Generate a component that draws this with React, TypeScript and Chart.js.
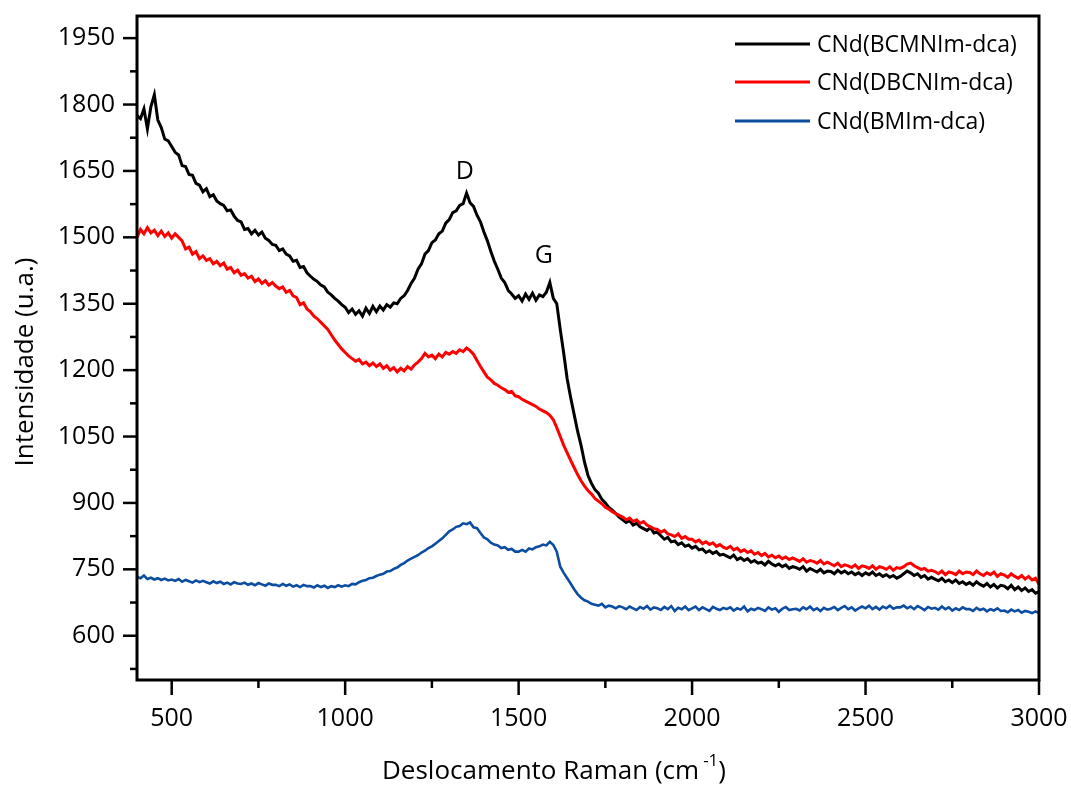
import React, { useEffect, useRef } from 'react';
import { Chart, registerables } from 'chart.js';

Chart.register(...registerables);

// Raman shift axis (cm-1), sampled every 10 cm-1 from 400 to 3000
const ramanShift: number[] = Array.from({ length: 261 }, (_, i) => 400 + i * 10);

const seriesLabels = ['CNd(BCMNIm-dca)', 'CNd(DBCNIm-dca)', 'CNd(BMIm-dca)'];
const seriesColors = ['#000000', '#ff0000', '#0c4da2'];

const intensityBCMNIm: number[] = [
  1775, 1768, 1790, 1745, 1795, 1822, 1765, 1748, 1722, 1718,
  1705, 1692, 1686, 1662, 1660, 1642, 1640, 1622, 1618, 1603,
  1610, 1592, 1596, 1582, 1576, 1572, 1560, 1562, 1548, 1538,
  1535, 1518, 1520, 1508, 1516, 1505, 1512, 1498, 1493, 1484,
  1482, 1470, 1474, 1462, 1458, 1446, 1448, 1432, 1434, 1420,
  1412, 1405, 1400, 1392, 1388, 1376, 1370, 1362, 1356, 1348,
  1342, 1330, 1338, 1326, 1334, 1322, 1340, 1328, 1344, 1332,
  1345, 1336, 1348, 1342, 1352, 1350, 1362, 1368, 1380, 1396,
  1408, 1428, 1440, 1462, 1470, 1488, 1494, 1508, 1514, 1532,
  1540, 1556, 1560, 1572, 1576, 1600, 1578, 1570, 1550, 1535,
  1512, 1492, 1468, 1446, 1428, 1408, 1398, 1380, 1372, 1362,
  1368, 1356, 1372, 1360, 1374, 1358, 1370, 1366, 1376, 1398,
  1362, 1350, 1292, 1238, 1180, 1138, 1100, 1062, 1030, 992,
  962, 944, 930, 922, 908, 900, 890, 884, 876, 868,
  862, 856, 860, 850, 854, 846, 842, 838, 844, 832,
  834, 826, 818, 822, 812, 814, 806, 810, 802, 805,
  798, 802, 794, 796, 788, 792, 786, 790, 782, 784,
  780, 776, 782, 772, 776, 770, 774, 766, 770, 764,
  766, 760, 768, 762, 758, 762, 756, 760, 752, 756,
  754, 750, 756, 746, 752, 748, 744, 750, 742, 746,
  745, 740, 748, 742, 746, 740, 744, 738, 742, 736,
  742, 738, 744, 736, 740, 734, 738, 732, 736, 730,
  734, 740, 746, 742, 736, 740, 732, 736, 728, 732,
  728, 724, 730, 722, 726, 720, 726, 718, 722, 716,
  720, 714, 722, 716, 712, 718, 710, 716, 708, 714,
  712, 706, 714, 704, 710, 702, 708, 700, 704, 696,
  700,
];

const intensityDBCNIm: number[] = [
  1500, 1518, 1508, 1522, 1510, 1516, 1504, 1514, 1502, 1510,
  1498, 1508, 1500, 1492, 1474, 1478, 1462, 1468, 1452, 1458,
  1448, 1452, 1440, 1446, 1436, 1442, 1428, 1432, 1420, 1426,
  1414, 1418, 1408, 1412, 1400, 1406, 1396, 1402, 1392, 1398,
  1390, 1384, 1388, 1376, 1380, 1368, 1364, 1348, 1352, 1338,
  1332, 1322, 1316, 1308, 1300, 1292, 1280, 1268, 1258, 1248,
  1240, 1232, 1226, 1220, 1224, 1214, 1218, 1210, 1216, 1208,
  1214, 1204, 1210, 1200, 1206, 1196, 1204, 1198, 1208, 1202,
  1212, 1218, 1226, 1238, 1230, 1234, 1226, 1236, 1230, 1240,
  1236, 1242, 1238, 1246, 1242, 1250, 1244, 1236, 1222, 1208,
  1196, 1184, 1178, 1170, 1166, 1160, 1156, 1150, 1152, 1142,
  1140, 1134, 1130, 1126, 1122, 1118, 1112, 1108, 1104, 1098,
  1088, 1070, 1050, 1030, 1013, 996, 980, 964, 950, 938,
  928, 920, 910, 904, 898, 890, 886, 880, 876, 872,
  868, 862, 866, 858, 862, 854, 858, 850, 846, 842,
  840, 834, 838, 830, 828, 824, 830, 820, 824, 818,
  818, 812, 816, 808, 812, 806, 810, 802, 806, 800,
  797, 802, 794, 798, 790, 794, 788, 792, 784, 788,
  781, 786, 778, 782, 776, 780, 774, 778, 772, 776,
  772, 768, 774, 766, 770, 768, 764, 770, 762, 766,
  762, 758, 764, 756, 760, 758, 754, 760, 752, 758,
  756, 752, 758, 750, 756, 754, 750, 756, 748, 754,
  752, 756, 762, 764, 758, 754, 750, 752, 746, 748,
  745, 740, 746, 738, 744, 742, 738, 746, 740, 744,
  743, 738, 746, 740, 736, 742, 738, 744, 734, 740,
  737, 732, 740, 734, 730, 736, 728, 734, 726, 730,
  716,
];

const intensityBMIm: number[] = [
  733, 730, 736, 728, 731, 727, 730, 726, 729, 725,
  727, 724, 728, 722, 726, 723, 720, 725, 721, 724,
  721, 718, 723, 719, 722, 717, 720, 716, 721, 718,
  717, 720, 715, 718, 714, 719, 716, 713, 718, 715,
  715, 712, 717, 713, 716, 711, 714, 710, 715, 712,
  712, 709, 714, 710, 713, 708, 712, 710, 714, 711,
  714, 712, 717, 716, 721, 724, 726, 730, 731, 735,
  738, 740, 745, 746, 751, 754, 760, 764, 770, 774,
  778, 782, 788, 792, 798, 802, 808, 814, 820, 828,
  836, 840, 846, 848, 854, 852, 856, 845, 843, 832,
  822, 818, 810, 806, 804, 798, 800, 794, 796, 790,
  790, 794, 790, 797, 795, 800, 802, 806, 804, 812,
  805, 790, 756, 742, 730, 718, 705, 694, 686, 680,
  677, 672, 670, 668, 672, 664, 668, 666, 662, 667,
  664, 660, 666, 662, 658, 665, 661, 667, 659, 664,
  662, 658, 665, 660, 667, 656, 663, 660, 666, 658,
  662, 666, 658, 664, 660, 656, 665, 661, 658, 663,
  660, 664, 657, 662, 659, 666, 655, 661, 658, 663,
  660, 656, 664, 659, 662, 654, 661, 665, 658, 660,
  661, 657, 664, 660, 666, 658, 662, 656, 663, 659,
  661, 665, 658, 663, 667, 660, 664, 657, 662, 666,
  662, 668, 660, 665, 659, 666, 662, 668, 661, 664,
  664, 668, 662, 666, 660, 667, 663, 658, 665, 661,
  663, 659, 666, 660, 664, 657, 662, 658, 664, 660,
  660, 656, 663, 658, 661, 655, 660, 657, 662, 656,
  657, 653, 659, 655, 658, 652, 656, 654, 651, 655,
  651,
];

const xTickLabels: number[] = [500, 1000, 1500, 2000, 2500, 3000];
const xMinorTicks: number[] = [750, 1250, 1750, 2250, 2750];
const yTickLabels: number[] = [600, 750, 900, 1050, 1200, 1350, 1500, 1650, 1800, 1950];
const yMinorTicks: number[] = [525, 675, 825, 975, 1125, 1275, 1425, 1575, 1725, 1875];

const bandLabels: string[] = ['D', 'G'];
const bandLabelX: number[] = [1345, 1573];
const bandLabelY: number[] = [1648, 1458];

const FONT = "'Open Sans', 'Noto Sans', sans-serif";

const decorPlugin = {
  id: 'decor',
  afterDraw(chart: any) {
    const { ctx, chartArea: a, scales } = chart;
    const xs = scales.x;
    const ys = scales.y;
    ctx.save();
    ctx.strokeStyle = '#000';
    ctx.fillStyle = '#000';
    ctx.lineCap = 'butt';

    // frame
    ctx.lineWidth = 3;
    ctx.strokeRect(a.left, a.top, a.right - a.left, a.bottom - a.top);

    // ticks
    ctx.lineWidth = 2.5;
    const yT = (v: number, len: number) => {
      const p = ys.getPixelForValue(v);
      ctx.beginPath();
      ctx.moveTo(a.left, p);
      ctx.lineTo(a.left - len, p);
      ctx.stroke();
    };
    const xT = (v: number, len: number) => {
      const p = xs.getPixelForValue(v);
      ctx.beginPath();
      ctx.moveTo(p, a.bottom);
      ctx.lineTo(p, a.bottom + len);
      ctx.stroke();
    };
    yTickLabels.forEach((v) => yT(v, 14));
    yMinorTicks.forEach((v) => yT(v, 7));
    xTickLabels.forEach((v) => xT(v, 15));
    xMinorTicks.forEach((v) => xT(v, 8));

    // tick labels
    ctx.font = `25px ${FONT}`;
    ctx.textBaseline = 'middle';
    ctx.textAlign = 'right';
    yTickLabels.forEach((v) => {
      ctx.fillText(String(v), a.left - 22, ys.getPixelForValue(v));
    });
    ctx.textAlign = 'center';
    xTickLabels.forEach((v) => {
      ctx.fillText(String(v), xs.getPixelForValue(v), a.bottom + 39);
    });

    // y axis title
    ctx.save();
    ctx.translate(33, 362);
    ctx.rotate(-Math.PI / 2);
    ctx.font = `26px ${FONT}`;
    ctx.textAlign = 'center';
    ctx.textBaseline = 'alphabetic';
    ctx.fillText('Intensidade (u.a.)', 0, 0);
    ctx.restore();

    // x axis title with superscript
    ctx.textBaseline = 'alphabetic';
    ctx.textAlign = 'left';
    const main = 'Deslocamento Raman (cm';
    const sup = '-1';
    const close = ')';
    ctx.font = `26px ${FONT}`;
    const w1 = ctx.measureText(main).width;
    const w3 = ctx.measureText(close).width;
    ctx.font = `17px ${FONT}`;
    const w2 = ctx.measureText(sup).width;
    const gap = 4;
    const total = w1 + gap + w2 + w3;
    let sx = 554 - total / 2;
    const base = 779;
    ctx.font = `26px ${FONT}`;
    ctx.fillText(main, sx, base);
    sx += w1 + gap;
    ctx.font = `17px ${FONT}`;
    ctx.fillText(sup, sx, base - 13);
    sx += w2;
    ctx.font = `26px ${FONT}`;
    ctx.fillText(close, sx, base);

    // legend
    const legendY = [44, 82, 121];
    ctx.font = `23px ${FONT}`;
    ctx.textBaseline = 'middle';
    ctx.textAlign = 'left';
    seriesLabels.forEach((lab, i) => {
      ctx.strokeStyle = seriesColors[i];
      ctx.lineWidth = 3;
      ctx.beginPath();
      ctx.moveTo(735, legendY[i]);
      ctx.lineTo(810, legendY[i]);
      ctx.stroke();
      ctx.fillStyle = '#000';
      ctx.fillText(lab, 817, legendY[i] + 1);
    });

    // band labels
    ctx.font = `25px ${FONT}`;
    ctx.textAlign = 'center';
    ctx.textBaseline = 'middle';
    bandLabels.forEach((t, i) => {
      ctx.fillText(t, xs.getPixelForValue(bandLabelX[i]), ys.getPixelForValue(bandLabelY[i]));
    });

    ctx.restore();
  },
};

export default function App() {
  const ref = useRef<HTMLCanvasElement | null>(null);

  useEffect(() => {
    if (!ref.current) return;
    const series = [intensityBCMNIm, intensityDBCNIm, intensityBMIm];
    const chart = new Chart(ref.current, {
      type: 'line',
      data: {
        datasets: series.map((vals, i) => ({
          label: seriesLabels[i],
          data: ramanShift.map((x, j) => ({ x, y: vals[j] })),
          borderColor: seriesColors[i],
          backgroundColor: seriesColors[i],
          borderWidth: i === 2 ? 2.6 : 3,
          pointRadius: 0,
          tension: 0,
          order: 3 - i,
        })),
      },
      options: {
        animation: false,
        responsive: false,
        devicePixelRatio: 1,
        layout: { padding: { left: 0, top: 16, right: 32, bottom: 0 } },
        plugins: {
          legend: { display: false },
          tooltip: { enabled: false },
          title: { display: false },
        },
        scales: {
          x: {
            type: 'linear',
            min: 400,
            max: 3000,
            grid: { display: false, drawTicks: false },
            border: { display: false },
            afterFit: (s: any) => { s.height = 105; },
            afterBuildTicks: (s: any) => { s.ticks = xTickLabels.map((v) => ({ value: v })); },
            ticks: { display: false },
          },
          y: {
            type: 'linear',
            min: 500,
            max: 2000,
            grid: { display: false, drawTicks: false },
            border: { display: false },
            afterFit: (s: any) => { s.width = 137; },
            afterBuildTicks: (s: any) => { s.ticks = yTickLabels.map((v) => ({ value: v })); },
            ticks: { display: false },
          },
        },
      },
      plugins: [decorPlugin],
    });
    return () => chart.destroy();
  }, []);

  return (
    <div style={{ position: 'absolute', left: 0, top: 0, width: 1071, height: 785, background: '#fff' }}>
      <canvas ref={ref} width={1071} height={785} style={{ width: 1071, height: 785, display: 'block' }} />
    </div>
  );
}
